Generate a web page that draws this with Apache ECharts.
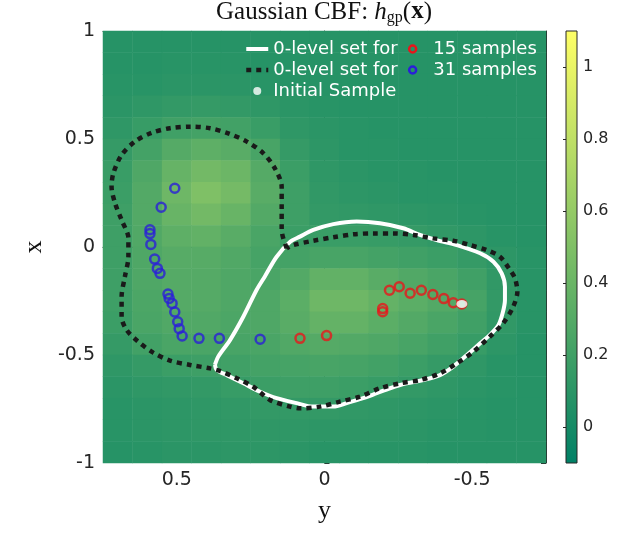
<!DOCTYPE html>
<html>
<head>
<meta charset="utf-8">
<script src="https://cdn.jsdelivr.net/npm/echarts@6/dist/echarts.min.js"></script>
<style>
  html, body { margin: 0; padding: 0; background: #fff; }
  #chart { width: 640px; height: 557px; }
</style>
</head>
<body>
<div id="chart"></div>
<script>
// horizontal axis ("y"), cell centres left -> right (axis is reversed)
var hCenters = [0.7, 0.6, 0.5, 0.4, 0.3, 0.2, 0.1, 0, -0.1, -0.2, -0.3, -0.4, -0.5, -0.6, -0.7];
// vertical axis ("x"), cell centres top -> bottom
var vCenters = [0.95, 0.85, 0.75, 0.65, 0.55, 0.45, 0.35, 0.25, 0.15, 0.05,
  -0.05, -0.15, -0.25, -0.35, -0.45, -0.55, -0.65, -0.75, -0.85, -0.95];

// h_gp values, one row per vCenter
var fieldRows = [
  [0.08, 0.08, 0.08, 0.08, 0.08, 0.08, 0.08, 0.08, 0.08, 0.08, 0.08, 0.08, 0.08, 0.08, 0.08],
  [0.08, 0.08, 0.09, 0.09, 0.09, 0.08, 0.08, 0.08, 0.08, 0.08, 0.08, 0.08, 0.08, 0.08, 0.08],
  [0.09, 0.09, 0.10, 0.10, 0.10, 0.09, 0.08, 0.08, 0.08, 0.08, 0.08, 0.08, 0.08, 0.08, 0.08],
  [0.10, 0.12, 0.14, 0.15, 0.14, 0.12, 0.10, 0.09, 0.08, 0.08, 0.08, 0.08, 0.08, 0.08, 0.08],
  [0.12, 0.16, 0.20, 0.22, 0.21, 0.17, 0.12, 0.10, 0.09, 0.08, 0.08, 0.08, 0.08, 0.08, 0.08],
  [0.15, 0.22, 0.30, 0.34, 0.32, 0.24, 0.15, 0.11, 0.09, 0.09, 0.08, 0.08, 0.08, 0.08, 0.08],
  [0.17, 0.27, 0.38, 0.44, 0.41, 0.30, 0.18, 0.12, 0.10, 0.09, 0.09, 0.08, 0.08, 0.08, 0.08],
  [0.18, 0.29, 0.42, 0.50, 0.45, 0.32, 0.19, 0.13, 0.11, 0.10, 0.09, 0.09, 0.08, 0.08, 0.08],
  [0.19, 0.29, 0.39, 0.44, 0.39, 0.29, 0.19, 0.14, 0.13, 0.12, 0.11, 0.10, 0.09, 0.08, 0.08],
  [0.19, 0.28, 0.34, 0.36, 0.32, 0.25, 0.18, 0.17, 0.17, 0.16, 0.15, 0.13, 0.11, 0.09, 0.08],
  [0.19, 0.27, 0.31, 0.31, 0.28, 0.23, 0.22, 0.24, 0.24, 0.22, 0.20, 0.18, 0.15, 0.11, 0.09],
  [0.19, 0.27, 0.30, 0.30, 0.27, 0.25, 0.29, 0.36, 0.36, 0.32, 0.28, 0.25, 0.20, 0.13, 0.09],
  [0.19, 0.26, 0.30, 0.30, 0.27, 0.27, 0.33, 0.42, 0.42, 0.37, 0.33, 0.29, 0.23, 0.14, 0.09],
  [0.18, 0.25, 0.28, 0.28, 0.26, 0.27, 0.32, 0.37, 0.37, 0.33, 0.29, 0.25, 0.20, 0.13, 0.09],
  [0.15, 0.21, 0.25, 0.25, 0.24, 0.25, 0.28, 0.30, 0.29, 0.27, 0.24, 0.20, 0.16, 0.11, 0.08],
  [0.12, 0.15, 0.18, 0.19, 0.20, 0.22, 0.23, 0.24, 0.23, 0.21, 0.18, 0.15, 0.12, 0.09, 0.08],
  [0.10, 0.12, 0.13, 0.14, 0.16, 0.18, 0.19, 0.19, 0.18, 0.16, 0.14, 0.12, 0.10, 0.09, 0.08],
  [0.09, 0.10, 0.11, 0.12, 0.13, 0.14, 0.14, 0.14, 0.13, 0.12, 0.11, 0.10, 0.09, 0.08, 0.08],
  [0.09, 0.10, 0.11, 0.12, 0.12, 0.12, 0.12, 0.11, 0.11, 0.11, 0.10, 0.09, 0.09, 0.08, 0.08],
  [0.08, 0.09, 0.10, 0.10, 0.11, 0.11, 0.10, 0.09, 0.09, 0.09, 0.09, 0.08, 0.08, 0.08, 0.08]
];

// 0-level set with 15 samples, [y, x]
var whiteLevelSet = [
  [0.371, -0.546], [0.360, -0.508], [0.320, -0.431], [0.275, -0.323], [0.230, -0.199],
  [0.201, -0.134], [0.162, -0.045], [0.117, 0.023], [0.083, 0.048], [0.038, 0.079],
  [-0.030, 0.106], [-0.109, 0.118], [-0.188, 0.110], [-0.267, 0.087], [-0.323, 0.056],
  [-0.380, 0.032], [-0.448, 0.009], [-0.527, -0.029], [-0.572, -0.068], [-0.600, -0.122],
  [-0.611, -0.184], [-0.611, -0.245], [-0.603, -0.307], [-0.589, -0.361], [-0.560, -0.407],
  [-0.527, -0.446], [-0.482, -0.500], [-0.436, -0.554], [-0.391, -0.593], [-0.335, -0.616],
  [-0.278, -0.631], [-0.222, -0.654], [-0.177, -0.677], [-0.131, -0.700], [-0.075, -0.723],
  [-0.030, -0.739], [0.038, -0.739], [0.094, -0.723], [0.162, -0.700], [0.218, -0.670],
  [0.275, -0.631], [0.331, -0.593], [0.365, -0.569], [0.371, -0.546]
];

// 0-level set with 31 samples, [y, x]
var blackLevelSet = [
  [0.128, -0.006], [0.145, 0.079], [0.145, 0.179], [0.145, 0.279], [0.168, 0.364],
  [0.207, 0.434], [0.263, 0.488], [0.326, 0.526], [0.388, 0.550], [0.455, 0.557],
  [0.523, 0.550], [0.585, 0.529], [0.642, 0.488], [0.687, 0.426], [0.715, 0.341],
  [0.721, 0.279], [0.709, 0.202], [0.687, 0.125], [0.664, 0.040], [0.664, -0.045],
  [0.676, -0.138], [0.687, -0.230], [0.687, -0.323], [0.670, -0.384], [0.631, -0.438],
  [0.580, -0.489], [0.523, -0.526], [0.455, -0.546], [0.388, -0.562], [0.354, -0.574],
  [0.297, -0.608], [0.241, -0.647], [0.185, -0.708], [0.117, -0.739], [0.083, -0.747],
  [0.015, -0.739], [-0.052, -0.716], [-0.120, -0.693], [-0.188, -0.654], [-0.256, -0.631],
  [-0.323, -0.616], [-0.391, -0.585], [-0.448, -0.538], [-0.504, -0.485], [-0.560, -0.415],
  [-0.605, -0.353], [-0.639, -0.276], [-0.653, -0.207], [-0.645, -0.145], [-0.628, -0.106],
  [-0.594, -0.045], [-0.549, -0.014], [-0.493, 0.009], [-0.436, 0.029], [-0.368, 0.040],
  [-0.301, 0.056], [-0.233, 0.063], [-0.165, 0.063], [-0.098, 0.059], [-0.030, 0.045],
  [0.038, 0.029], [0.106, 0.009], [0.128, -0.006]
];

var redSamples = [
  [0.083, -0.423], [-0.007, -0.410], [-0.197, -0.285], [-0.197, -0.300], [-0.220, -0.200],
  [-0.253, -0.184], [-0.290, -0.214], [-0.328, -0.200], [-0.367, -0.220], [-0.404, -0.239],
  [-0.436, -0.258], [-0.465, -0.264]
];

var blueSamples = [
  [0.507, 0.272], [0.553, 0.184], [0.591, 0.080], [0.591, 0.062], [0.588, 0.012],
  [0.575, -0.056], [0.566, -0.099], [0.557, -0.122], [0.530, -0.218], [0.526, -0.238],
  [0.516, -0.261], [0.507, -0.301], [0.497, -0.346], [0.492, -0.378], [0.482, -0.412],
  [0.425, -0.423], [0.356, -0.423], [0.218, -0.427]
];

var initialSample = [[-0.465, -0.264]];

var heatData = [];
fieldRows.map(function(row, r) {
  row.map(function(val, c) {
    heatData.push([c, vCenters.length - 1 - r, val]);
  });
});

var axisColor = '#262626';
var tickFont = { fontFamily: 'DejaVu Sans', fontSize: 19, color: axisColor };

function frameAxis(opts) {
  var base = {
    gridIndex: 0,
    type: 'value',
    axisLine: { show: true, lineStyle: { color: axisColor, width: 1 } },
    axisTick: { show: true, inside: true, length: 5, lineStyle: { color: axisColor } },
    axisLabel: Object.assign({ show: true }, tickFont),
    splitLine: { show: false }
  };
  return Object.assign(base, opts);
}

var legendText = {
  '15 samples': '0-level set for  {r|}   15 samples',
  '31 samples': '0-level set for  {b|}   31 samples',
  'Initial Sample': 'Initial Sample'
};
var noSymbol = { color: 'rgba(0,0,0,0)', borderColor: 'rgba(0,0,0,0)', borderWidth: 0 };

var chart = echarts.init(document.getElementById('chart'));
chart.setOption({
  animation: false,
  title: {
    text: '{n|Gaussian CBF: }{i|h}{s|gp}{n|(}{b|x}{n|)}',
    left: 324,
    textAlign: 'center',
    top: -2,
    padding: 0,
    textStyle: {
      fontWeight: 'normal',
      rich: {
        n: { fontFamily: 'Liberation Serif', fontWeight: 'normal', fontSize: 25, color: '#111', lineHeight: 28 },
        i: { fontFamily: 'Liberation Serif', fontWeight: 'normal', fontStyle: 'italic', fontSize: 25, color: '#111', lineHeight: 28 },
        s: { fontFamily: 'Liberation Serif', fontWeight: 'normal', fontSize: 16, color: '#111', lineHeight: 20, verticalAlign: 'bottom' },
        b: { fontFamily: 'Liberation Serif', fontWeight: 'bold', fontSize: 25, color: '#111', lineHeight: 28 }
      }
    }
  },
  legend: {
    data: [
      { name: '15 samples', itemStyle: noSymbol },
      { name: '31 samples', itemStyle: noSymbol },
      { name: 'Initial Sample', icon: 'circle', itemStyle: { color: '#ffffff' } }
    ],
    orient: 'vertical',
    left: 244,
    top: 40,
    padding: 0,
    itemWidth: 22,
    itemHeight: 8,
    itemGap: 3,
    selectedMode: false,
    lineStyle: { width: 'inherit' },
    formatter: function(name) {
      return legendText[name];
    },
    textStyle: {
      color: '#ffffff',
      fontFamily: 'DejaVu Sans',
      fontSize: 18,
      lineHeight: 18,
      rich: {
        r: { width: 7, height: 7, borderColor: '#e8161b', borderWidth: 2.5, borderRadius: 6 },
        b: { width: 7, height: 7, borderColor: '#2a1fd8', borderWidth: 2.5, borderRadius: 6 }
      }
    }
  },
  grid: [
    { left: 103, right: 94, top: 31, bottom: 94 },
    {
      left: 566, right: 63, top: 31, bottom: 94, show: true,
      borderColor: axisColor, borderWidth: 1,
      backgroundColor: {
        type: 'linear', x: 0, y: 0, x2: 0, y2: 1,
        colorStops: [{ offset: 0, color: '#ffff66' }, { offset: 1, color: '#008066' }]
      }
    }
  ],
  visualMap: {
    show: false,
    type: 'continuous',
    seriesIndex: 0,
    min: -0.1,
    max: 1.1,
    inRange: { color: ['#008066', '#ffff66'] }
  },
  xAxis: [
    { gridIndex: 0, type: 'category', show: false, data: hCenters.map(String) },
    frameAxis({
      min: -0.75, max: 0.75, inverse: true, position: 'bottom',
      axisTick: { show: true, inside: true, length: 5, lineStyle: { color: axisColor }, customValues: [-0.5, 0, 0.5] },
      axisLabel: Object.assign({ show: true, margin: 8, customValues: [-0.5, 0, 0.5] }, tickFont),
      name: 'y', nameLocation: 'middle', nameGap: 35,
      nameTextStyle: { fontFamily: 'Liberation Serif', fontSize: 26, color: '#111' }
    }),
    frameAxis({
      min: -0.75, max: 0.75, inverse: true, position: 'top',
      axisTick: { show: true, inside: true, length: 5, lineStyle: { color: axisColor }, customValues: [-0.5, 0, 0.5] },
      axisLabel: { show: false }
    }),
    { gridIndex: 1, type: 'value', min: 0, max: 1, show: false }
  ],
  yAxis: [
    { gridIndex: 0, type: 'category', show: false, data: vCenters.slice().reverse().map(String) },
    frameAxis({
      min: -1, max: 1, interval: 0.5, position: 'left',
      name: 'x', nameLocation: 'middle', nameGap: 46, nameRotate: 90,
      nameTextStyle: { fontFamily: 'Liberation Serif', fontSize: 26, color: '#111' }
    }),
    frameAxis({
      min: -1, max: 1, interval: 0.5, position: 'right',
      axisLabel: { show: false }
    }),
    {
      gridIndex: 1, type: 'value', min: -0.1, max: 1.1, position: 'right',
      axisLine: { show: false },
      axisTick: { show: true, inside: true, length: 3, lineStyle: { color: axisColor }, customValues: [0, 0.2, 0.4, 0.6, 0.8, 1] },
      axisLabel: { show: true, margin: 6, fontFamily: 'DejaVu Sans', fontSize: 16, color: axisColor, customValues: [0, 0.2, 0.4, 0.6, 0.8, 1] },
      splitLine: { show: false }
    }
  ],
  series: [
    {
      name: 'field',
      type: 'heatmap',
      xAxisIndex: 0,
      yAxisIndex: 0,
      data: heatData,
      emphasis: { disabled: true }
    },
    {
      name: '15 samples',
      type: 'line',
      xAxisIndex: 1,
      yAxisIndex: 1,
      data: whiteLevelSet,
      symbol: 'none',
      smooth: 0.3,
      lineStyle: { color: '#ffffff', width: 4 }
    },
    {
      name: '31 samples',
      type: 'line',
      xAxisIndex: 1,
      yAxisIndex: 1,
      data: blackLevelSet,
      symbol: 'none',
      smooth: 0.3,
      lineStyle: { color: '#1a1a1a', width: 4.5, type: [5, 5] }
    },
    {
      name: 'blue samples',
      type: 'scatter',
      xAxisIndex: 1,
      yAxisIndex: 1,
      data: blueSamples,
      symbol: 'circle',
      symbolSize: 9,
      itemStyle: { color: 'rgba(0,0,0,0)', borderColor: '#2a1fd8', borderWidth: 2.5 }
    },
    {
      name: 'red samples',
      type: 'scatter',
      xAxisIndex: 1,
      yAxisIndex: 1,
      data: redSamples,
      symbol: 'circle',
      symbolSize: 9,
      itemStyle: { color: 'rgba(0,0,0,0)', borderColor: '#e8161b', borderWidth: 2.5 }
    },
    {
      name: 'Initial Sample',
      type: 'scatter',
      xAxisIndex: 1,
      yAxisIndex: 1,
      data: initialSample,
      symbol: 'path://M0,5 A5,5 0 1 1 10,5 A5,5 0 1 1 0,5 Z',
      symbolSize: [11, 8],
      itemStyle: { color: '#ffffff' }
    }
  ]
});
</script>
</body>
</html>
